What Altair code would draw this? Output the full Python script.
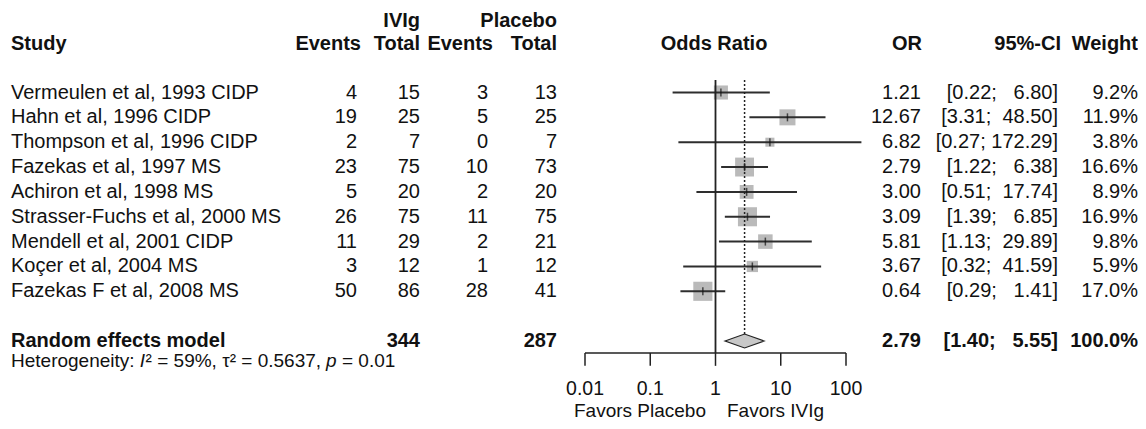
import altair as alt
import pandas as pd

# ---------------- data ----------------
studies = [
    "Vermeulen et al, 1993 CIDP",
    "Hahn et al, 1996 CIDP",
    "Thompson et al, 1996 CIDP",
    "Fazekas et al, 1997 MS",
    "Achiron et al, 1998 MS",
    "Strasser-Fuchs et al, 2000 MS",
    "Mendell et al, 2001 CIDP",
    "Koçer et al, 2004 MS",
    "Fazekas F et al, 2008 MS",
]
ivig_events = [4, 19, 2, 23, 5, 26, 11, 3, 50]
ivig_total = [15, 25, 7, 75, 20, 75, 29, 12, 86]
plac_events = [3, 5, 0, 10, 2, 11, 2, 1, 28]
plac_total = [13, 25, 7, 73, 20, 75, 21, 12, 41]
or_vals = [1.21, 12.67, 6.82, 2.79, 3.00, 3.09, 5.81, 3.67, 0.64]
ci_low = [0.22, 3.31, 0.27, 1.22, 0.51, 1.39, 1.13, 0.32, 0.29]
ci_high = [6.80, 48.50, 172.29, 6.38, 17.74, 6.85, 29.89, 41.59, 1.41]
weights = [9.2, 11.9, 3.8, 16.6, 8.9, 16.9, 9.8, 5.9, 17.0]

summary_label = "Random effects model"
summary_ivig_total = 344
summary_plac_total = 287
summary_or = 2.79
summary_low = 1.40
summary_high = 5.55
summary_weight = 100.0

null_value = 1
tick_values = [0.01, 0.1, 1, 10, 100]
tick_labels = ["0.01", "0.1", "1", "10", "100"]

NB = "\u00a0"
FONT = "Liberation Sans"


def fmt_ci(lo, hi):
    return "[" + f"{lo:.2f}".rjust(4, NB) + ";" + NB + f"{hi:.2f}".rjust(6, NB) + "]"


rows = list(range(len(studies)))
df = pd.DataFrame({
    "row": rows,
    "study": studies,
    "ie": [str(v) for v in ivig_events],
    "it": [str(v) for v in ivig_total],
    "pe": [str(v) for v in plac_events],
    "pt": [str(v) for v in plac_total],
    "or": or_vals,
    "lo": ci_low,
    "hi": ci_high,
    "w": weights,
    "or_s": [f"{v:.2f}" for v in or_vals],
    "ci_s": [fmt_ci(a, b) for a, b in zip(ci_low, ci_high)],
    "w_s": [f"{v:.1f}%" for v in weights],
})

SUM_ROW = 10
HET_ROW = 10.8
AXIS_ROW = 10.48
HEAD2 = -1.95
HEAD1 = -2.86

xs = alt.Scale(type="log", domain=[0.01, 100], range=[577, 838], nice=False)
ys = alt.Scale(domain=[0, 10], range=[84.5, 333], nice=False, zero=False)


def X(f):
    return alt.X(f, type="quantitative", scale=xs, axis=None)


def Y(f):
    return alt.Y(f, type="quantitative", scale=ys, axis=None)


layers = []

# squares
layers.append(
    alt.Chart(df).mark_square(color="#bababa", opacity=1).encode(
        x=X("or"), y=Y("row"),
        size=alt.Size("w:Q", scale=alt.Scale(domain=[0, 17], range=[0, 366]), legend=None),
    )
)
# CI lines
layers.append(
    alt.Chart(df).mark_rule(color="#2e2e2e", strokeWidth=2).encode(
        x=X("lo"), x2="hi", y=Y("row")
    )
)
# point ticks
layers.append(
    alt.Chart(df).mark_tick(orient="vertical", size=8, thickness=1.5, color="#111111").encode(
        x=X("or"), y=Y("row")
    )
)
# reference line at null
ref_df = pd.DataFrame({"x": [null_value], "y": [-0.5], "y2": [AXIS_ROW]})
layers.append(
    alt.Chart(ref_df).mark_rule(color="#222222", strokeWidth=1.8).encode(
        x=X("x"), y=Y("y"), y2="y2"
    )
)
# dotted summary line
dot_df = pd.DataFrame({"x": [summary_or], "y": [-0.5], "y2": [SUM_ROW - 0.28]})
layers.append(
    alt.Chart(dot_df).mark_rule(color="#222222", strokeWidth=1.5, strokeDash=[2, 2]).encode(
        x=X("x"), y=Y("y"), y2="y2"
    )
)
# diamond
dia_df = pd.DataFrame({
    "x": [summary_low, summary_or, summary_high],
    "y": [SUM_ROW, SUM_ROW - 0.28, SUM_ROW],
    "y2": [SUM_ROW, SUM_ROW + 0.28, SUM_ROW],
})
layers.append(
    alt.Chart(dia_df).mark_area(fill="#c8c8c8", stroke="#222222", strokeWidth=1.2, opacity=1).encode(
        x=X("x"), y=Y("y"), y2="y2"
    )
)
# axis line
ax_df = pd.DataFrame({"x": [tick_values[0]], "x2": [tick_values[-1]], "y": [AXIS_ROW]})
layers.append(
    alt.Chart(ax_df).mark_rule(color="#222222", strokeWidth=1.5).encode(
        x=X("x"), x2="x2", y=Y("y")
    )
)
tk_df = pd.DataFrame({"x": tick_values, "lab": tick_labels, "y": AXIS_ROW, "y2": AXIS_ROW + 0.52, "ly": 11.95})
layers.append(
    alt.Chart(tk_df).mark_rule(color="#222222", strokeWidth=1.5).encode(
        x=X("x"), y=Y("y"), y2="y2"
    )
)
layers.append(
    alt.Chart(tk_df).mark_text(font=FONT, fontSize=19.5, color="#111111", baseline="middle", align="center").encode(
        x=X("x"), y=Y("ly"), text="lab:N"
    )
)


def txt(data, field, x, align, rowfield="row", bold=False, size=20, italic=False, color="#111111"):
    kw = dict(font=FONT, fontSize=size, color=color, baseline="middle", align=align)
    if bold:
        kw["fontWeight"] = "bold"
    if italic:
        kw["fontStyle"] = "italic"
    return alt.Chart(data).mark_text(**kw).encode(
        x=alt.value(x), y=Y(rowfield), text=alt.Text(f"{field}:N")
    )


# study table
layers.append(txt(df, "study", 3, "left"))
layers.append(txt(df, "ie", 349, "right"))
layers.append(txt(df, "it", 412, "right"))
layers.append(txt(df, "pe", 480, "right"))
layers.append(txt(df, "pt", 549, "right"))
layers.append(txt(df, "or_s", 913, "right"))
layers.append(txt(df, "ci_s", 1050, "right"))
layers.append(txt(df, "w_s", 1130, "right"))


def one(label, row):
    return pd.DataFrame({"t": [label], "row": [row]})


# headers
layers.append(txt(one("Study", HEAD2), "t", 3, "left", bold=True))
layers.append(txt(one("Events", HEAD2), "t", 353, "right", bold=True))
layers.append(txt(one("Total", HEAD2), "t", 412, "right", bold=True))
layers.append(txt(one("IVIg", HEAD1), "t", 412, "right", bold=True))
layers.append(txt(one("Events", HEAD2), "t", 485, "right", bold=True))
layers.append(txt(one("Total", HEAD2), "t", 549, "right", bold=True))
layers.append(txt(one("Placebo", HEAD1), "t", 549, "right", bold=True))
layers.append(txt(one("Odds Ratio", HEAD2), "t", 706, "center", bold=True))
layers.append(txt(one("OR", HEAD2), "t", 914, "right", bold=True))
layers.append(txt(one("95%-CI", HEAD2), "t", 1053, "right", bold=True))
layers.append(txt(one("Weight", HEAD2), "t", 1130, "right", bold=True))

# summary row
layers.append(txt(one(summary_label, SUM_ROW), "t", 3, "left", bold=True))
layers.append(txt(one(str(summary_ivig_total), SUM_ROW), "t", 412, "right", bold=True))
layers.append(txt(one(str(summary_plac_total), SUM_ROW), "t", 549, "right", bold=True))
layers.append(txt(one(f"{summary_or:.2f}", SUM_ROW), "t", 913, "right", bold=True))
layers.append(txt(one(fmt_ci(summary_low, summary_high), SUM_ROW), "t", 1050, "right", bold=True))
layers.append(txt(one(f"{summary_weight:.1f}%", SUM_ROW), "t", 1130, "right", bold=True))

# heterogeneity line (segments for italics)
HS = 19
het_segments = [
    ("Heterogeneity:" + NB, 3, False),
    ("I", 131.8, True),
    ("²" + NB + "=" + NB + "59%," + NB + "τ²" + NB + "=" + NB + "0.5637,", 137.6, False),
    ("p", 318, True),
    ("=" + NB + "0.01", 334, False),
]
for s, x, it in het_segments:
    layers.append(txt(one(s, HET_ROW), "t", x, "left", size=HS, italic=it))

# favours labels
layers.append(txt(one("Favors Placebo", 12.82), "t", 698, "right", size=19))
layers.append(txt(one("Favors IVIg", 12.82), "t", 719, "left", size=19))

chart = alt.layer(*layers).properties(
    width=1130, height=413, padding=0,
    autosize=alt.AutoSizeParams(type="none"),
).configure_view(stroke=None)

chart.save("out.html", embed_options={"renderer": "svg", "actions": False})
